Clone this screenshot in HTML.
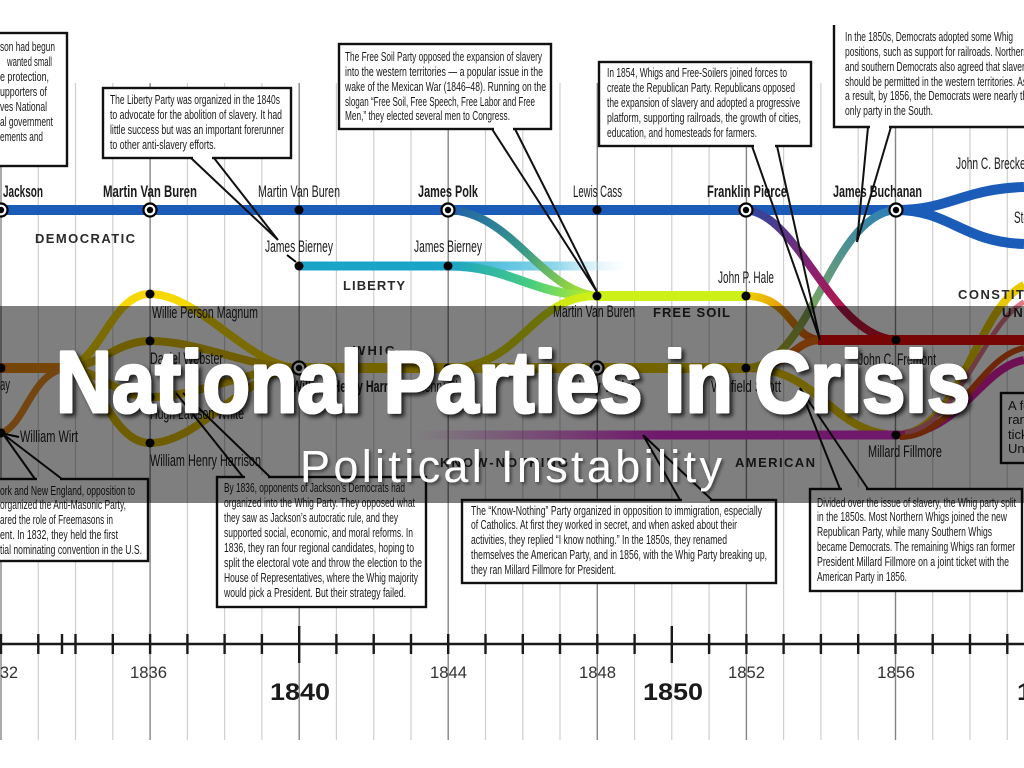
<!DOCTYPE html>
<html><head><meta charset="utf-8"><style>html,body{margin:0;padding:0;background:#fff;}svg{display:block;}</style></head>
<body>
<svg width="1024" height="768" viewBox="0 0 1024 768" xmlns="http://www.w3.org/2000/svg" font-family="'Liberation Sans Narrow','Liberation Sans',sans-serif">
<defs>
<linearGradient id="libFade" gradientUnits="userSpaceOnUse" x1="448" y1="0" x2="628" y2="0"><stop offset="0" stop-color="#2aaed0"/><stop offset="0.6" stop-color="#8fd6ec"/><stop offset="1" stop-color="#d8f2fa" stop-opacity="0"/></linearGradient>
<linearGradient id="polkFS" gradientUnits="userSpaceOnUse" x1="448" y1="210" x2="597" y2="296"><stop offset="0" stop-color="#1f5fa8"/><stop offset="0.5" stop-color="#3a9a8a"/><stop offset="1" stop-color="#b8ee20"/></linearGradient>
<linearGradient id="libFS" gradientUnits="userSpaceOnUse" x1="448" y1="266" x2="597" y2="296"><stop offset="0" stop-color="#1aa2c8"/><stop offset="0.55" stop-color="#46cc80"/><stop offset="1" stop-color="#c4f020"/></linearGradient>
<linearGradient id="whigFS" gradientUnits="userSpaceOnUse" x1="448" y1="368" x2="597" y2="296"><stop offset="0" stop-color="#e6cc00"/><stop offset="1" stop-color="#ccf018"/></linearGradient>
<linearGradient id="amerFade" gradientUnits="userSpaceOnUse" x1="415" y1="0" x2="660" y2="0"><stop offset="0" stop-color="#e030d8" stop-opacity="0"/><stop offset="1" stop-color="#e030d8"/></linearGradient>
<linearGradient id="haleRep" gradientUnits="userSpaceOnUse" x1="746" y1="296" x2="822" y2="340"><stop offset="0" stop-color="#ecd000"/><stop offset="1" stop-color="#e05010"/></linearGradient>
<linearGradient id="scottBuch" gradientUnits="userSpaceOnUse" x1="746" y1="368" x2="896" y2="210"><stop offset="0" stop-color="#d8c000"/><stop offset="0.5" stop-color="#6a9e74"/><stop offset="1" stop-color="#2a80b8"/></linearGradient>
<linearGradient id="pierceFrem" gradientUnits="userSpaceOnUse" x1="746" y1="210" x2="896" y2="340"><stop offset="0" stop-color="#2a4aa0"/><stop offset="0.45" stop-color="#8a2070"/><stop offset="1" stop-color="#e01020"/></linearGradient>
<filter id="sh" x="-5%" y="-30%" width="110%" height="160%"><feDropShadow dx="3" dy="3" stdDeviation="2" flood-color="#000" flood-opacity="0.75"/></filter>
<filter id="sh2" x="-5%" y="-30%" width="110%" height="160%"><feDropShadow dx="2" dy="2" stdDeviation="1.5" flood-color="#000" flood-opacity="0.5"/></filter>
</defs>
<rect width="1024" height="768" fill="#fff"/>

<!-- grid -->
<g stroke="#cfcfcf" stroke-width="1.2">
<path d="M38.3,83V740M75.5,83V740M112.8,83V740M187.4,83V740M224.6,83V740M261.9,83V740M336.4,83V740M373.7,83V740M411,83V740M485.5,83V740M522.8,83V740M560,83V740M634.6,83V740M671.8,83V740M709.1,83V740M783.6,83V740M820.9,83V740M858.2,83V740M932.7,83V740M970,83V740M1007.3,83V740"/>
</g>
<g stroke="#858585" stroke-width="1.4">
<path d="M1,83V740M150.1,83V740M299.2,83V740M448.2,83V740M597.3,83V740M746.4,83V740M895.5,83V740"/>
</g>

<!-- streams -->
<g fill="none" stroke-linecap="butt">
<path d="M0,210H900" stroke="#1a5cb8" stroke-width="10"/>
<path d="M896,210C950,210 962,189 1024,187" stroke="#1a5cb8" stroke-width="10"/>
<path d="M896,210C950,210 962,242 1024,244" stroke="#1a5cb8" stroke-width="10"/>
<path d="M299,266H450" stroke="#1aa5c8" stroke-width="9"/>
<path d="M448,266H628" stroke="url(#libFade)" stroke-width="9"/>
<path d="M448,210C512,212 540,290 597,296" stroke="url(#polkFS)" stroke-width="8"/>
<path d="M448,266C512,266 532,296 597,296" stroke="url(#libFS)" stroke-width="9"/>
<path d="M448,368C522,368 530,296 597,296" stroke="url(#whigFS)" stroke-width="8"/>
<path d="M597,296H746" stroke="#ccf018" stroke-width="10"/>
<path d="M0,368H72" stroke="#ec8a10" stroke-width="10"/>
<path d="M1,433C26,425 30,374 66,368" stroke="#e68a20" stroke-width="7"/>
<path d="M62,368C100,368 110,294 150,294C200,294 250,368 299,368" stroke="#f5d800" stroke-width="8"/>
<path d="M62,368C100,368 115,341 150,341C200,341 250,368 299,368" stroke="#dcbc00" stroke-width="8"/>
<path d="M62,368C100,368 115,397 150,397C200,397 250,368 299,368" stroke="#e0c000" stroke-width="8"/>
<path d="M62,368C100,368 110,443 150,443C200,443 250,368 299,368" stroke="#dcbc00" stroke-width="8"/>
<path d="M299,368H748" stroke="#e8c800" stroke-width="10"/>
<path d="M746,368C820,368 830,433 896,435C960,435 975,310 1024,285" stroke="#e8c800" stroke-width="8"/>
<path d="M415,435H898" stroke="url(#amerFade)" stroke-width="9"/>
<path d="M896,435C960,435 980,368 1024,360" stroke="#e020a8" stroke-width="8"/>
<path d="M900,437C955,437 980,356 1024,348" stroke="#d85010" stroke-width="6"/>
<path d="M905,432C955,430 985,322 1024,302" stroke="#e07888" stroke-width="5"/>
<path d="M746,296C792,296 790,340 822,340" stroke="url(#haleRep)" stroke-width="8"/>
<path d="M746,368C792,368 792,340 822,340" stroke="#f07010" stroke-width="8"/>
<path d="M746,368C810,368 830,215 896,210" stroke="url(#scottBuch)" stroke-width="8"/>
<path d="M746,210C800,215 830,335 896,340" stroke="url(#pierceFrem)" stroke-width="8"/>
<path d="M818,340H1024" stroke="#f00a0a" stroke-width="10"/>
</g>

<!-- nodes -->
<g fill="#fff" stroke="#000" stroke-width="2.2">
<circle cx="1" cy="210" r="6.5"/><circle cx="150" cy="210" r="6.5"/><circle cx="448" cy="210" r="6.5"/><circle cx="746" cy="210" r="6.5"/><circle cx="896" cy="210" r="6.5"/>
<circle cx="299" cy="368" r="6.5"/><circle cx="597" cy="368" r="6.5"/>
</g>
<g fill="#000">
<circle cx="1" cy="210" r="3.2"/><circle cx="150" cy="210" r="3.2"/><circle cx="448" cy="210" r="3.2"/><circle cx="746" cy="210" r="3.2"/><circle cx="896" cy="210" r="3.2"/>
<circle cx="299" cy="368" r="3.2"/><circle cx="597" cy="368" r="3.2"/>
<circle cx="299" cy="210" r="4.5"/><circle cx="597" cy="210" r="4.5"/>
<circle cx="299" cy="266" r="4.5"/><circle cx="448" cy="266" r="4.5"/>
<circle cx="597" cy="296" r="4.5"/><circle cx="746" cy="296" r="4.5"/>
<circle cx="1" cy="368" r="4.5"/><circle cx="1" cy="433" r="4.5"/>
<circle cx="150" cy="294" r="4.5"/><circle cx="150" cy="341" r="4.5"/><circle cx="150" cy="397" r="4.5"/><circle cx="150" cy="443" r="4.5"/>
<circle cx="448" cy="368" r="4.5"/><circle cx="746" cy="368" r="4.5"/>
<circle cx="896" cy="340" r="4.5"/><circle cx="896" cy="435" r="4.5"/>
</g>
<path d="M287,255L296,262M5,434L19,437" stroke="#000" stroke-width="2"/>

<!-- candidate labels -->
<g fill="#1a1a1a" font-size="16.5">
<text x="3" y="197" font-weight="bold" textLength="40" lengthAdjust="spacingAndGlyphs">Jackson</text>
<text x="103" y="197" font-weight="bold" textLength="94" lengthAdjust="spacingAndGlyphs">Martin Van Buren</text>
<text x="258" y="197" textLength="82" lengthAdjust="spacingAndGlyphs">Martin Van Buren</text>
<text x="418" y="197" font-weight="bold" textLength="60" lengthAdjust="spacingAndGlyphs">James Polk</text>
<text x="573" y="197" textLength="49" lengthAdjust="spacingAndGlyphs">Lewis Cass</text>
<text x="707" y="197" font-weight="bold" textLength="80" lengthAdjust="spacingAndGlyphs">Franklin Pierce</text>
<text x="833" y="197" font-weight="bold" textLength="89" lengthAdjust="spacingAndGlyphs">James Buchanan</text>
<text x="956" y="169" textLength="98" lengthAdjust="spacingAndGlyphs">John C. Breckenridge</text>
<text x="1014" y="223" textLength="76" lengthAdjust="spacingAndGlyphs">Stephen Douglas</text>
<text x="265" y="252" textLength="68" lengthAdjust="spacingAndGlyphs">James Bierney</text>
<text x="414" y="252" textLength="68" lengthAdjust="spacingAndGlyphs">James Bierney</text>
<text x="718" y="283" textLength="56" lengthAdjust="spacingAndGlyphs">John P. Hale</text>
<text x="553" y="317" textLength="82" lengthAdjust="spacingAndGlyphs">Martin Van Buren</text>
<text x="152" y="318" textLength="106" lengthAdjust="spacingAndGlyphs">Willie Person Magnum</text>
<text x="150" y="364" textLength="73" lengthAdjust="spacingAndGlyphs">Daniel Webster</text>
<text x="150" y="419" textLength="94" lengthAdjust="spacingAndGlyphs">Hugh Lawson White</text>
<text x="150" y="466" textLength="111" lengthAdjust="spacingAndGlyphs">William Henry Harrison</text>
<text x="0" y="390" textLength="10" lengthAdjust="spacingAndGlyphs">ay</text>
<text x="20" y="442" textLength="58" lengthAdjust="spacingAndGlyphs">William Wirt</text>
<text x="292" y="392" font-weight="bold" textLength="118" lengthAdjust="spacingAndGlyphs">William Henry Harrison</text>
<text x="417" y="392" textLength="52" lengthAdjust="spacingAndGlyphs">Henry Clay</text>
<text x="560" y="392" font-weight="bold" textLength="75" lengthAdjust="spacingAndGlyphs">Zachary Taylor</text>
<text x="711" y="392" textLength="70" lengthAdjust="spacingAndGlyphs">Winfield Scott</text>
<text x="858" y="365" textLength="78" lengthAdjust="spacingAndGlyphs">John C. Fremont</text>
<text x="868" y="457" textLength="74" lengthAdjust="spacingAndGlyphs">Millard Fillmore</text>
</g>
<!-- party labels -->
<g fill="#2a2a2a" font-size="13" font-weight="bold" font-family="'Liberation Sans',sans-serif">
<text x="35" y="243" textLength="100" lengthAdjust="spacing">DEMOCRATIC</text>
<text x="343" y="290" textLength="62" lengthAdjust="spacing">LIBERTY</text>
<text x="653" y="317" textLength="77" lengthAdjust="spacing">FREE SOIL</text>
<text x="353" y="355" textLength="42" lengthAdjust="spacing">WHIG</text>
<text x="440" y="467" textLength="128" lengthAdjust="spacing">KNOW-NOTHING</text>
<text x="735" y="467" textLength="80" lengthAdjust="spacing">AMERICAN</text>
<text x="958" y="299" textLength="134" lengthAdjust="spacing">CONSTITUTIONAL</text>
<text x="1002" y="317" textLength="50" lengthAdjust="spacing">UNION</text>
</g>

<!-- boxes -->
<g fill="#fff" stroke="#111" stroke-width="2.4">
<rect x="-10" y="33" width="77" height="133"/>
<rect x="103" y="88" width="188" height="70"/>
<rect x="339" y="44" width="212" height="85"/>
<rect x="599" y="62" width="212" height="84"/>
<rect x="834" y="25" width="200" height="102" stroke="none"/>
<path d="M834,25V127H1030" fill="none"/>
<rect x="-10" y="479" width="158" height="82"/>
<rect x="217" y="477" width="209" height="130"/>
<rect x="462" y="500" width="314" height="83"/>
<rect x="810" y="489" width="212" height="102"/>
<rect x="1001" y="393" width="40" height="70"/>
</g>
<g stroke="#fff" stroke-width="3.2">
<path d="M193,158H212M494,129H513M754,146H775M870,127H889M37,479H60M245,477H268M682,500H710M842,489H866"/>
</g>
<g stroke="#111" stroke-width="2" fill="none">
<path d="M191,158L278,240L214,158"/>
<path d="M492,129L597,292L515,129"/>
<path d="M752,146L820,340L777,146"/>
<path d="M868,127L857,242L891,127"/>
<path d="M35,479L3,434L62,479"/>
<path d="M243,477L176,393M270,477L183,393"/>
<path d="M680,500L643,435L712,500"/>
<path d="M840,489L800,388L868,489"/>
</g>

<!-- box text -->
<g fill="#1a1a1a" font-size="13">
<text x="0" y="51" textLength="55" lengthAdjust="spacingAndGlyphs">son had begun</text>
<text x="7" y="66" textLength="45" lengthAdjust="spacingAndGlyphs">wanted small</text>
<text x="0" y="81" textLength="49" lengthAdjust="spacingAndGlyphs">e protection,</text>
<text x="0" y="96" textLength="47" lengthAdjust="spacingAndGlyphs">upporters of</text>
<text x="0" y="111" textLength="47" lengthAdjust="spacingAndGlyphs">ves National</text>
<text x="0" y="126" textLength="53" lengthAdjust="spacingAndGlyphs">al government</text>
<text x="0" y="141" textLength="43" lengthAdjust="spacingAndGlyphs">ements and</text>

<text x="110" y="104" textLength="170" lengthAdjust="spacingAndGlyphs">The Liberty Party was organized in the 1840s</text>
<text x="110" y="119" textLength="172" lengthAdjust="spacingAndGlyphs">to advocate for the abolition of slavery. It had</text>
<text x="110" y="134" textLength="174" lengthAdjust="spacingAndGlyphs">little success but was an important forerunner</text>
<text x="110" y="149" textLength="106" lengthAdjust="spacingAndGlyphs">to other anti-slavery efforts.</text>

<text x="345" y="61" textLength="197" lengthAdjust="spacingAndGlyphs">The Free Soil Party opposed the expansion of slavery</text>
<text x="345" y="76" textLength="198" lengthAdjust="spacingAndGlyphs">into the western territories — a popular issue in the</text>
<text x="345" y="91" textLength="201" lengthAdjust="spacingAndGlyphs">wake of the Mexican War (1846–48). Running on the</text>
<text x="345" y="106" textLength="190" lengthAdjust="spacingAndGlyphs">slogan “Free Soil, Free Speech, Free Labor and Free</text>
<text x="345" y="120" textLength="165" lengthAdjust="spacingAndGlyphs">Men,” they elected several men to Congress.</text>

<text x="607" y="77" textLength="180" lengthAdjust="spacingAndGlyphs">In 1854, Whigs and Free-Soilers joined forces to</text>
<text x="607" y="92" textLength="188" lengthAdjust="spacingAndGlyphs">create the Republican Party. Republicans opposed</text>
<text x="607" y="107" textLength="193" lengthAdjust="spacingAndGlyphs">the expansion of slavery and adopted a progressive</text>
<text x="607" y="122" textLength="194" lengthAdjust="spacingAndGlyphs">platform, supporting railroads, the growth of cities,</text>
<text x="607" y="137" textLength="150" lengthAdjust="spacingAndGlyphs">education, and homesteads for farmers.</text>

<text x="845" y="41" textLength="168" lengthAdjust="spacingAndGlyphs">In the 1850s, Democrats adopted some Whig</text>
<text x="845" y="56" textLength="183" lengthAdjust="spacingAndGlyphs">positions, such as support for railroads. Northern</text>
<text x="845" y="71" textLength="184" lengthAdjust="spacingAndGlyphs">and southern Democrats also agreed that slavery</text>
<text x="845" y="86" textLength="182" lengthAdjust="spacingAndGlyphs">should be permitted in the western territories. As</text>
<text x="845" y="100" textLength="187" lengthAdjust="spacingAndGlyphs">a result, by 1856, the  Democrats were nearly the</text>
<text x="845" y="115" textLength="88" lengthAdjust="spacingAndGlyphs">only party in the South.</text>

<text x="0" y="495" textLength="135" lengthAdjust="spacingAndGlyphs">ork and New England, opposition to</text>
<text x="0" y="509" textLength="126" lengthAdjust="spacingAndGlyphs">organized the Anti-Masonic Party,</text>
<text x="0" y="524" textLength="113" lengthAdjust="spacingAndGlyphs">ared the role of Freemasons in</text>
<text x="0" y="539" textLength="118" lengthAdjust="spacingAndGlyphs">ent. In 1832, they held the first</text>
<text x="0" y="554" textLength="142" lengthAdjust="spacingAndGlyphs">tial nominating convention in the U.S.</text>

<text x="224" y="492" textLength="181" lengthAdjust="spacingAndGlyphs">By 1836, opponents of Jackson’s Democrats had</text>
<text x="224" y="507" textLength="191" lengthAdjust="spacingAndGlyphs">organized into the Whig Party. They opposed what</text>
<text x="224" y="522" textLength="174" lengthAdjust="spacingAndGlyphs">they saw as Jackson’s autocratic rule, and they</text>
<text x="224" y="537" textLength="189" lengthAdjust="spacingAndGlyphs">supported social, economic, and moral reforms. In</text>
<text x="224" y="552" textLength="190" lengthAdjust="spacingAndGlyphs">1836, they ran four regional candidates, hoping to</text>
<text x="224" y="567" textLength="198" lengthAdjust="spacingAndGlyphs">split the electoral vote and throw the election to the</text>
<text x="224" y="582" textLength="194" lengthAdjust="spacingAndGlyphs">House of Representatives, where the Whig majority</text>
<text x="224" y="597" textLength="182" lengthAdjust="spacingAndGlyphs">would pick a President. But their strategy failed.</text>

<text x="471" y="515" textLength="291" lengthAdjust="spacingAndGlyphs">The “Know-Nothing” Party organized in opposition to immigration, especially</text>
<text x="471" y="529" textLength="266" lengthAdjust="spacingAndGlyphs">of Catholics. At first they worked in secret, and when asked about their</text>
<text x="471" y="544" textLength="256" lengthAdjust="spacingAndGlyphs">activities, they replied “I know nothing.” In the 1850s, they renamed</text>
<text x="471" y="559" textLength="296" lengthAdjust="spacingAndGlyphs">themselves the American Party, and in 1856, with the Whig Party breaking up,</text>
<text x="471" y="574" textLength="145" lengthAdjust="spacingAndGlyphs">they ran Millard Fillmore for President.</text>

<text x="817" y="507" textLength="199" lengthAdjust="spacingAndGlyphs">Divided over the issue of slavery, the Whig party split</text>
<text x="817" y="521" textLength="190" lengthAdjust="spacingAndGlyphs">in the 1850s. Most Northern Whigs joined the new</text>
<text x="817" y="536" textLength="175" lengthAdjust="spacingAndGlyphs">Republican Party, while many Southern Whigs</text>
<text x="817" y="551" textLength="198" lengthAdjust="spacingAndGlyphs">became Democrats. The remaining Whigs ran former</text>
<text x="817" y="566" textLength="192" lengthAdjust="spacingAndGlyphs">President Millard Fillmore on a joint ticket with the</text>
<text x="817" y="581" textLength="90" lengthAdjust="spacingAndGlyphs">American Party in 1856.</text>

<text x="1008" y="410">A few</text>
<text x="1008" y="424">ran J</text>
<text x="1008" y="439">ticke</text>
<text x="1008" y="453">Unio</text>
</g>

<!-- axis -->
<path d="M0,644H1024" stroke="#1a1a1a" stroke-width="2.5"/>
<g stroke="#1a1a1a" stroke-width="2.4">
<path d="M1,634V654M38.3,634V654M62,634V654M75.5,634V654M112.8,634V654M150.1,634V654M187.4,634V654M224.6,634V654M261.9,634V654M336.4,634V654M373.7,634V654M411,634V654M448.2,634V654M485.5,634V654M522.8,634V654M560,634V654M597.3,634V654M634.6,634V654M709.1,634V654M746.4,634V654M783.6,634V654M820.9,634V654M858.2,634V654M895.5,634V654M932.7,634V654M970,634V654M1007.3,634V654"/>
<path d="M299.2,626V663M671.8,626V663"/>
</g>
<g fill="#1a1a1a" font-family="'Liberation Sans',sans-serif">
<g font-size="17" fill="#333">
<text x="0" y="678" textLength="18" lengthAdjust="spacingAndGlyphs">32</text>
<text x="130" y="678" textLength="37" lengthAdjust="spacingAndGlyphs">1836</text>
<text x="430" y="678" textLength="37" lengthAdjust="spacingAndGlyphs">1844</text>
<text x="579" y="678" textLength="37" lengthAdjust="spacingAndGlyphs">1848</text>
<text x="728" y="678" textLength="37" lengthAdjust="spacingAndGlyphs">1852</text>
<text x="877" y="678" textLength="38" lengthAdjust="spacingAndGlyphs">1856</text>
</g>
<g font-size="24" font-weight="bold">
<text x="270" y="700" textLength="60" lengthAdjust="spacingAndGlyphs">1840</text>
<text x="643" y="700" textLength="60" lengthAdjust="spacingAndGlyphs">1850</text>
<text x="1017" y="700" textLength="60" lengthAdjust="spacingAndGlyphs">1860</text>
</g>
</g>

<!-- banner -->
<rect x="0" y="306" width="1024" height="197" fill="#000" fill-opacity="0.5"/>
<text x="56" y="412" font-family="'Liberation Sans',sans-serif" font-weight="bold" font-size="87" fill="#fff" stroke="#fff" stroke-width="3" stroke-linejoin="round" textLength="914" lengthAdjust="spacingAndGlyphs" filter="url(#sh)">National Parties in Crisis</text>
<text x="300" y="482" font-family="'Liberation Sans',sans-serif" font-size="45" fill="#fff" textLength="422" lengthAdjust="spacing" filter="url(#sh2)">Political Instability</text>
</svg>
</body></html>
